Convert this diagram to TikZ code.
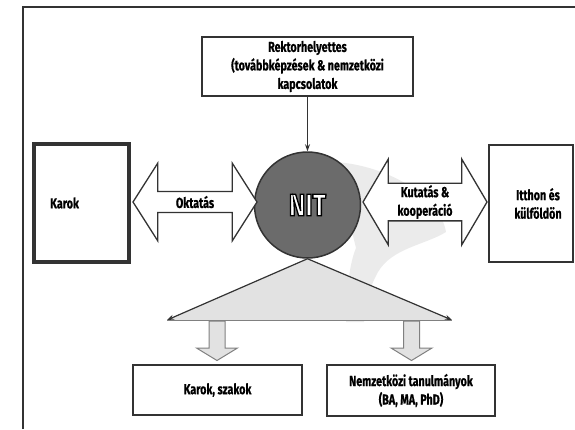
\documentclass[tikz,border=0pt]{standalone}
\usepackage{fontspec}
\setmainfont{Fira Sans}[FakeStretch=0.74, BoldFeatures={FakeBold=0.6}]
\newfontfamily\nitfont{Fira Sans}[FakeStretch=0.8]
\usepackage{tikz}
\usetikzlibrary{positioning,shapes,arrows.meta,backgrounds}
\definecolor{darkline}{HTML}{333333}
\definecolor{nitgray}{HTML}{6B6B6B}
\definecolor{lightfill}{HTML}{E2E2E2}
\definecolor{markgray}{HTML}{EBEBEB}
\newcommand{\outlined}[1]{{\color{white}\special{pdf:literal direct 2 Tr 1.3 w 0 G}#1\special{pdf:literal direct 0 Tr}}}
\tikzstyle{bx}=[%
      rectangle, draw=darkline, line width=2pt, fill=white,
      align=center, inner sep=0pt, font=\bfseries\fontsize{14.5}{18.5}\selectfont
]
\tikzstyle{lbl}=[%
      align=center, inner sep=0pt, font=\bfseries\fontsize{14.5}{18.5}\selectfont
]
\tikzstyle{dbl}=[%
      double arrow, draw=darkline, line width=1.3pt, fill=white, align=center,
      inner sep=0pt, font=\bfseries\fontsize{14.5}{18.5}\selectfont
]
\tikzstyle{dn}=[%
      draw=gray, line width=1pt, fill=lightfill
]
\tikzstyle{tri}=[%
      draw=darkline, line width=1.2pt, -{Stealth[length=7pt,width=5pt]}
]

\begin{document}
\begin{tikzpicture}[x=1pt,y=-1pt]
    \useasboundingbox (0,0) rectangle (575,429);
    % frame
    \draw[darkline, line width=1.5pt] (23,429) -- (23,7) -- (575,7);

    \node[bx, minimum width=211pt, minimum height=59pt] (rh) at (307.5,66.5)
        {Rektorhelyettes\\(továbbképzések \& nemzetközi\\kapcsolatok};
    \node[circle, draw=darkline, line width=1.5pt, fill=nitgray, minimum size=106pt,
          font=\nitfont\bfseries\fontsize{31}{32}\selectfont] (nit) at (307.5,205)
        {\outlined{NIT}};
    \node[bx, line width=4.5pt, minimum width=95pt, minimum height=118pt] (kar) at (81.5,203) {};
    \node[lbl, anchor=west] (karl) at (50,203) {Karok};
    \node[bx, minimum width=84pt, minimum height=117pt] (itt) at (531,203.5) {};
    \node[lbl] (ittl) at (538,203.5) {Itthon és\\külföldön};

    \node[dbl, minimum height=124pt, minimum width=78pt, double arrow head extend=18.5pt,
          double arrow tip angle=115] (okt) at (195,202) {Oktatás};
    \node[dbl, minimum height=124pt, minimum width=86pt, double arrow head extend=22.5pt,
          double arrow tip angle=119] (kut) at (425,202) {Kutatás \&\\kooperáció};

    \draw[darkline, line width=1pt, -{Stealth[length=7pt,width=5pt]}] (rh.south) -- (nit.north);

    % triangle below NIT
    \coordinate (tl) at (167,320);
    \coordinate (tr) at (452,320);
    \begin{scope}[on background layer]
      \fill[markgray] (335,162) .. controls (385,165) and (440,195) .. (446,232)
          .. controls (425,245) and (392,248) .. (378,272)
          .. controls (368,290) and (366,305) .. (364,322)
          -- (346,322) .. controls (346,290) and (350,262) .. (356,248) -- cycle;
      \fill[lightfill] (nit.south) -- (tl) -- (tr) -- cycle;
    \end{scope}
    \draw[gray, line width=1pt] (tl) -- (tr);
    \draw[tri] (nit.south) -- (tl);
    \draw[tri] (nit.south) -- (tr);

    % block arrows down to the boxes
    \foreach \x/\n in {217/al, 411.5/ar} {
      \draw[dn] (\x-8,321) -- (\x+8,321) -- (\x+8,348) -- (\x+20.5,348) -- (\x,360.5)
          -- (\x-20.5,348) -- (\x-8,348) -- cycle;
      \coordinate (\n) at (\x,360.5);
    }

    \node[bx, minimum width=169pt, minimum height=50pt] (ks) at (217.5,390) {Karok, szakok};
    \node[bx, minimum width=168pt, minimum height=51pt] (nt) at (411,390.5)
        {Nemzetközi tanulmányok\\(BA, MA, PhD)};
\end{tikzpicture}
\end{document}
